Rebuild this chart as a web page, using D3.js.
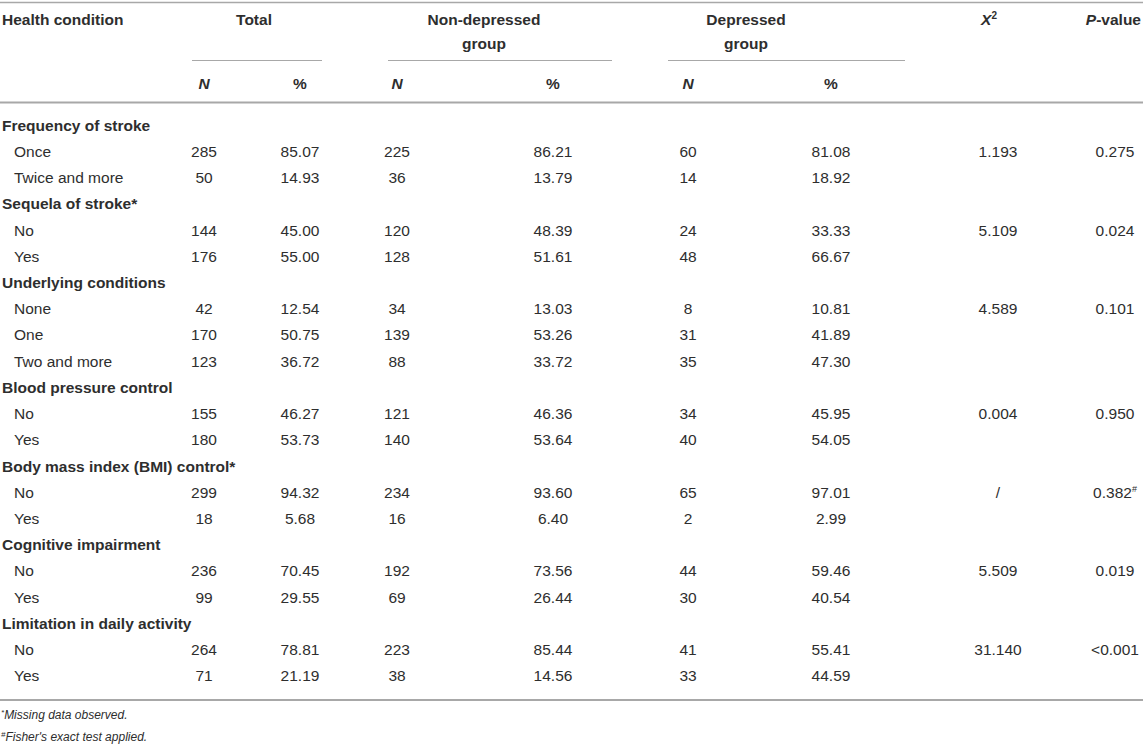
<!DOCTYPE html>
<html>
<head>
<meta charset="utf-8">
<script src="https://cdn.jsdelivr.net/npm/d3@7"></script>
<style>
  html, body { margin: 0; padding: 0; background: #fff; }
  svg { display: block; }
  text { font-family: "Liberation Sans", Arial, Helvetica, sans-serif; }
</style>
</head>
<body>
<svg id="chart" width="1143" height="747"></svg>
<script>
// ---------- DATA ----------
const sections = [
  "Frequency of stroke",
  "Sequela of stroke*",
  "Underlying conditions",
  "Blood pressure control",
  "Body mass index (BMI) control*",
  "Cognitive impairment",
  "Limitation in daily activity"
];
const levels = [
  ["Once", "Twice and more"],
  ["No", "Yes"],
  ["None", "One", "Two and more"],
  ["No", "Yes"],
  ["No", "Yes"],
  ["No", "Yes"],
  ["No", "Yes"]
];
const totalN   = [["285","50"],["144","176"],["42","170","123"],["155","180"],["299","18"],["236","99"],["264","71"]];
const totalPct = [["85.07","14.93"],["45.00","55.00"],["12.54","50.75","36.72"],["46.27","53.73"],["94.32","5.68"],["70.45","29.55"],["78.81","21.19"]];
const nonDepN   = [["225","36"],["120","128"],["34","139","88"],["121","140"],["234","16"],["192","69"],["223","38"]];
const nonDepPct = [["86.21","13.79"],["48.39","51.61"],["13.03","53.26","33.72"],["46.36","53.64"],["93.60","6.40"],["73.56","26.44"],["85.44","14.56"]];
const depN   = [["60","14"],["24","48"],["8","31","35"],["34","40"],["65","2"],["44","30"],["41","33"]];
const depPct = [["81.08","18.92"],["33.33","66.67"],["10.81","41.89","47.30"],["45.95","54.05"],["97.01","2.99"],["59.46","40.54"],["55.41","44.59"]];
const chiSq  = ["1.193","5.109","4.589","0.004","/","5.509","31.140"];
const pValue = ["0.275","0.024","0.101","0.950","0.382","0.019","<0.001"];
const pMark  = ["","","","","#","",""];
const footnotes = [["*","Missing data observed."],["#","Fisher's exact test applied."]];

// ---------- BUILD ROWS ----------
const rows = [];
sections.forEach((s, i) => {
  rows.push({type: "section", label: s});
  levels[i].forEach((l, j) => {
    rows.push({
      type: "level", label: l,
      cells: [totalN[i][j], totalPct[i][j], nonDepN[i][j], nonDepPct[i][j], depN[i][j], depPct[i][j]],
      chi: j === 0 ? chiSq[i] : null,
      p: j === 0 ? pValue[i] : null,
      pm: j === 0 ? pMark[i] : ""
    });
  });
});

// ---------- LAYOUT ----------
const W = 1143;
const svg = d3.select("#chart");
const TEXT = "#2e2e2e";
const RULE = "#a8a8a8";
const FS = 15.5;

const colKeys = ["tN","tP","nN","nP","dN","dP","chi","p"];
const x = d3.scaleOrdinal().domain(colKeys).range([204, 300, 397, 553, 688, 831, 998, 1115]);

const y = d3.scaleBand().domain(d3.range(rows.length)).range([112, 689]).paddingInner(0);

// rules
svg.append("line").attr("x1", 0).attr("x2", W).attr("y1", 2.5).attr("y2", 2.5)
  .attr("stroke", RULE).attr("stroke-width", 1.5);
svg.append("line").attr("x1", 0).attr("x2", W).attr("y1", 102.5).attr("y2", 102.5)
  .attr("stroke", RULE).attr("stroke-width", 2);
svg.append("line").attr("x1", 0).attr("x2", W).attr("y1", 700).attr("y2", 700)
  .attr("stroke", RULE).attr("stroke-width", 2);

// group underlines
const spans = [[192, 322], [388, 612], [668, 905]];
svg.selectAll("line.span").data(spans).join("line").attr("class", "span")
  .attr("x1", d => d[0]).attr("x2", d => d[1]).attr("y1", 60.5).attr("y2", 60.5)
  .attr("stroke", RULE).attr("stroke-width", 1);

// header
const hdr = svg.append("g").attr("fill", TEXT).attr("font-size", FS).attr("font-weight", "bold");
hdr.append("text").attr("x", 2).attr("y", 25).text("Health condition");
hdr.append("text").attr("x", 254).attr("y", 25).attr("text-anchor", "middle").text("Total");
hdr.append("text").attr("x", 484).attr("y", 25).attr("text-anchor", "middle").text("Non-depressed");
hdr.append("text").attr("x", 484).attr("y", 49).attr("text-anchor", "middle").text("group");
hdr.append("text").attr("x", 746).attr("y", 25).attr("text-anchor", "middle").text("Depressed");
hdr.append("text").attr("x", 746).attr("y", 49).attr("text-anchor", "middle").text("group");
const chiT = hdr.append("text").attr("x", 989).attr("y", 25).attr("text-anchor", "middle");
chiT.append("tspan").attr("font-style", "italic").text("X");
chiT.append("tspan").attr("font-size", 10).attr("dy", -6).text("2");
const pT = hdr.append("text").attr("x", 1141).attr("y", 25).attr("text-anchor", "end");
pT.append("tspan").attr("font-style", "italic").text("P");
pT.append("tspan").text("-value");

const subCols = [["tN","N"],["tP","%"],["nN","N"],["nP","%"],["dN","N"],["dP","%"]];
hdr.selectAll("text.sub").data(subCols).join("text").attr("class", "sub")
  .attr("x", d => x(d[0])).attr("y", 89).attr("text-anchor", "middle")
  .attr("font-style", d => d[1] === "N" ? "italic" : "normal")
  .text(d => d[1]);

// body
const body = svg.append("g").attr("fill", TEXT).attr("font-size", FS);
const rowG = body.selectAll("g.row").data(rows).join("g").attr("class", "row")
  .attr("transform", (d, i) => `translate(0,${y(i) + y.bandwidth() / 2 + 5.5})`);

rowG.filter(d => d.type === "section").append("text")
  .attr("x", 2).attr("font-weight", "bold").text(d => d.label);

const lv = rowG.filter(d => d.type === "level");
lv.append("text").attr("x", 14).text(d => d.label);
lv.selectAll("text.cell").data(d => d.cells.map((v, k) => ({v, k: colKeys[k]})))
  .join("text").attr("class", "cell")
  .attr("x", d => x(d.k)).attr("text-anchor", "middle").text(d => d.v);
lv.filter(d => d.chi !== null).append("text")
  .attr("x", x("chi")).attr("text-anchor", "middle").text(d => d.chi);
const pv = lv.filter(d => d.p !== null).append("text")
  .attr("x", x("p")).attr("text-anchor", "middle");
pv.append("tspan").text(d => d.p);
pv.filter(d => d.pm).append("tspan").attr("font-size", 9).attr("dy", -6).text(d => d.pm);

// footnotes
const fn = svg.append("g").attr("fill", TEXT).attr("font-size", 12).attr("font-style", "italic");
fn.selectAll("text").data(footnotes).join("text")
  .attr("x", 1).attr("y", (d, i) => 719 + i * 22)
  .each(function(d) {
    const t = d3.select(this);
    t.append("tspan").attr("font-size", 8).attr("dy", -4).text(d[0]);
    t.append("tspan").attr("dy", 4).text(d[1]);
  });
</script>
</body>
</html>
